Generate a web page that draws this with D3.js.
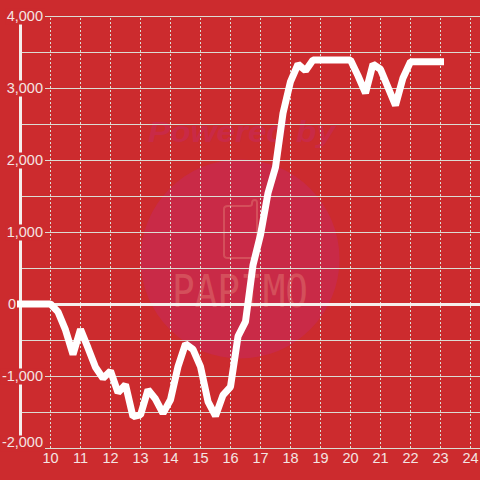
<!DOCTYPE html>
<html>
<head>
<meta charset="utf-8">
<script src="https://cdn.jsdelivr.net/npm/d3@7"></script>
<style>
  html, body { margin: 0; padding: 0; background: #cc2b2e; }
  svg { display: block; }
  text { font-family: "Liberation Sans", Arial, sans-serif; }
</style>
</head>
<body>
<script>
// quarter-hour readings, 9:00 to 23:00
const hours = [9, 9.25, 9.5, 9.75, 10, 10.25, 10.5, 10.75, 11, 11.25, 11.5, 11.75, 12, 12.25, 12.5, 12.75,
  13, 13.25, 13.5, 13.75, 14, 14.25, 14.5, 14.75, 15, 15.25, 15.5, 15.75, 16, 16.25, 16.5, 16.75,
  17, 17.25, 17.5, 17.75, 18, 18.25, 18.5, 18.75, 19, 19.25, 19.5, 19.75, 20, 20.25, 20.5, 20.75,
  21, 21.25, 21.5, 21.75, 22, 22.25, 22.5, 22.75, 23];
const values = [0, 0, 0, 0, 0, -110, -360, -700, -350, -610, -880, -1030, -930, -1230, -1120, -1565,
  -1540, -1190, -1320, -1520, -1330, -870, -555, -630, -870, -1355, -1555, -1265, -1150, -450, -245, 540,
  960, 1540, 1900, 2650, 3090, 3330, 3240, 3390, 3390, 3390, 3390, 3390, 3390, 3170, 2930, 3330,
  3260, 3010, 2760, 3140, 3365, 3365, 3365, 3365, 3365];

const xTicks = [10, 11, 12, 13, 14, 15, 16, 17, 18, 19, 20, 21, 22, 23, 24];
const yGrid = [-2000, -1500, -1000, -500, 0, 500, 1000, 1500, 2000, 2500, 3000, 3500, 4000];
const yLabels = [-2000, -1000, 0, 1000, 2000, 3000, 4000];

const width = 480, height = 480;
const bg = '#cc2b2e', labelColor = '#f4e4e2', gridColor = '#dcdcd4';

const x = d3.scaleLinear().domain([9, 24]).range([20.5, 470.5]);
const y = d3.scaleLinear().domain([-2000, 4000]).range([448, 16]);

const svg = d3.select('body').append('svg')
  .attr('width', width)
  .attr('height', height)
  .attr('viewBox', [0, 0, width, height]);

svg.append('rect').attr('width', width).attr('height', height).attr('fill', bg);

// watermark
const mark = svg.append('g');
mark.append('circle').attr('cx', 240).attr('cy', 259).attr('r', 99.5).attr('fill', '#c92a47');
mark.append('text')
  .attr('x', 148).attr('y', 142)
  .attr('textLength', 187).attr('lengthAdjust', 'spacingAndGlyphs')
  .attr('font-size', 29).attr('font-weight', 'bold').attr('font-style', 'italic')
  .attr('fill', '#c92a47')
  .text('Powered by');
mark.append('path')
  .attr('d', 'M228 206H249Q252 206 252 204V203Q252 200 255 200Q257 200 257 203V255Q257 258 254 258H228Q224 258 224 255V209Q224 206 228 206Z')
  .attr('fill', 'none').attr('stroke', '#d44f5b').attr('stroke-width', 2);
mark.append('text')
  .attr('x', 172).attr('y', 307)
  .attr('textLength', 136).attr('lengthAdjust', 'spacingAndGlyphs')
  .attr('font-size', 44)
  .style('font-family', '"DejaVu Sans Mono", monospace')
  .attr('fill', '#d44f5b')
  .text('PAPIMO');

// vertical dotted grid
svg.append('g')
  .attr('transform', 'translate(0,448)')
  .call(d3.axisBottom(x).offset(0).tickValues(xTicks).tickSize(-432).tickFormat(''))
  .call(g => g.select('.domain').remove())
  .call(g => g.selectAll('.tick line')
    .attr('stroke', gridColor)
    .attr('stroke-dasharray', '2,2'));

// horizontal grid, runs to the window edge
svg.append('g')
  .attr('transform', 'translate(20.5,0)')
  .call(d3.axisRight(y).tickValues(yGrid).tickSize(width - 20.5).tickFormat(''))
  .call(g => g.select('.domain').remove())
  .call(g => g.selectAll('.tick line').attr('stroke', gridColor));

// y axis bar
svg.append('line')
  .attr('x1', x(9)).attr('x2', x(9))
  .attr('y1', y(4000)).attr('y2', y(-2000))
  .attr('stroke', '#f5efed').attr('stroke-width', 3);

// y labels sit on boxes which cut the axis bar and the grid
// plain hyphen for negatives, d3.format would give a wider minus sign
const yAxis = svg.append('g')
  .attr('transform', 'translate(43,0)')
  .call(d3.axisLeft(y).tickValues(yLabels).tickSize(0).tickPadding(0)
    .tickFormat(d => d.toLocaleString('en-US')));
yAxis.select('.domain').remove();
yAxis.selectAll('.tick text')
  .attr('fill', labelColor)
  .attr('font-size', 14.5)
  .attr('dy', d => d === -2000 ? '-0.08em' : '0.32em')
  .attr('dx', d => d === 0 ? -27 : 0)
  .each(function () {
    const b = this.getBBox();
    const dx = +d3.select(this).attr('dx');
    d3.select(this.parentNode).insert('rect', 'text')
      .attr('x', b.x + dx - 1).attr('y', this.__data__ === -2000 ? -13 : -8)
      .attr('width', b.width + 3).attr('height', 16)
      .attr('fill', bg);
  });

// x labels
const xAxis = svg.append('g')
  .attr('transform', 'translate(0,448)')
  .call(d3.axisBottom(x).offset(0).tickValues(xTicks).tickSize(0).tickPadding(5));
xAxis.select('.domain').remove();
xAxis.selectAll('.tick text')
  .attr('fill', labelColor)
  .attr('font-size', 14.5);

// zero line
svg.append('line')
  .attr('x1', x(9)).attr('x2', width)
  .attr('y1', y(0) + 0.5).attr('y2', y(0) + 0.5)
  .attr('stroke', '#f5efed').attr('stroke-width', 3);

// series
const line = d3.line()
  .x((d, i) => x(hours[i]))
  .y(d => y(d));

svg.append('path')
  .datum(values)
  .attr('d', line)
  .attr('fill', 'none')
  .attr('stroke', '#ffffff')
  .attr('stroke-width', 7)
  .attr('stroke-linecap', 'square')
  .attr('stroke-linejoin', 'bevel');
</script>
</body>
</html>
